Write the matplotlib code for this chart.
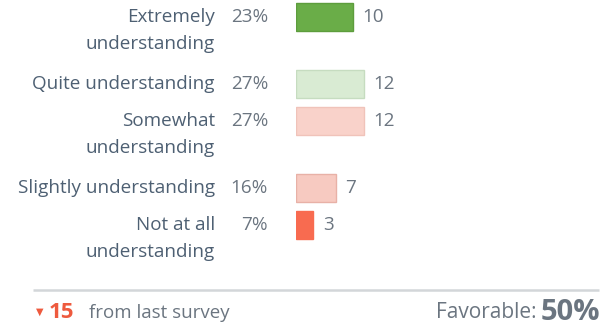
import matplotlib
matplotlib.use("Agg")
import matplotlib.pyplot as plt

# ---------- data ----------
labels = ["Extremely\nunderstanding", "Quite understanding", "Somewhat\nunderstanding",
          "Slightly understanding", "Not at all\nunderstanding"]
percents = ["23%", "27%", "27%", "16%", "7%"]
counts = [10, 12, 12, 7, 3]
change = 15
favorable = "50%"

bar_colors = ["#6aad48", "#d9ebd3", "#f9d2ca", "#f7cac1", "#f86b50"]
edge_colors = ["#5d9d3d", "#c6dcc0", "#f0c3ba", "#e8b1a7", "#f86b50"]

TEXT = "#4e6073"
GREY = "#6b7580"
RED = "#ee5a3e"
W, H = 611, 330

plt.rcParams["font.family"] = ["Open Sans", "DejaVu Sans"]

fig = plt.figure(figsize=(W / 100, H / 100), dpi=100)

# full-figure axes in pixel units for text and footer
base = fig.add_axes([0, 0, 1, 1])
base.set_xlim(0, W)
base.set_ylim(H, 0)
base.axis("off")

# bar axes: starts at the bar origin, x in response counts
BAR_X0 = 296
PX_PER_UNIT = 5.65
bar_ax = fig.add_axes([BAR_X0 / W, 0, 1 - BAR_X0 / W, 1])
bar_ax.set_xlim(0, (W - BAR_X0) / PX_PER_UNIT)
bar_ax.set_ylim(H, 0)
bar_ax.axis("off")

# row centres: single-line rows are shorter than wrapped ones
ROW_1 = 37
EXTRA_LINE = 30
LINE_H = 27
y = 17
centres = []
for lab in labels:
    centres.append(y)
    y += ROW_1 + EXTRA_LINE * (lab.count("\n"))

FS = 13.6
for lab, pct, n, yc, fc, ec in zip(labels, percents, counts, centres, bar_colors, edge_colors):
    for i, line in enumerate(lab.split("\n")):
        base.text(215, yc + i * LINE_H, line, ha="right", va="center",
                  fontsize=FS, color=TEXT)
    base.text(268, yc, pct, ha="right", va="center", fontsize=FS, color=GREY)
    bar_ax.barh(yc, n, left=0, height=28, color=fc, edgecolor=ec, linewidth=1)
    bar_ax.annotate(str(n), (n, yc), xytext=(10, 0), textcoords="offset pixels",
                    ha="left", va="center", fontsize=FS, color=GREY)

# footer
base.plot([33, 599], [290, 290], color="#d3d6d9", lw=1.8, solid_capstyle="butt")
base.text(36, 312, "\u25bc", ha="left", va="center", fontsize=7, color=RED,
          family=["DejaVu Sans"])
base.text(49, 312, str(change), ha="left", va="center", fontsize=16,
          color=RED, fontweight="bold")
base.text(89, 313, "from last survey", ha="left", va="center", fontsize=13.5,
          color=GREY)
base.text(600, 312, favorable, ha="right", va="center", fontsize=21,
          color=GREY, fontweight="bold")
base.text(537, 313, "Favorable:", ha="right", va="center", fontsize=15,
          color=GREY)

fig.savefig("out.png", dpi=100)
